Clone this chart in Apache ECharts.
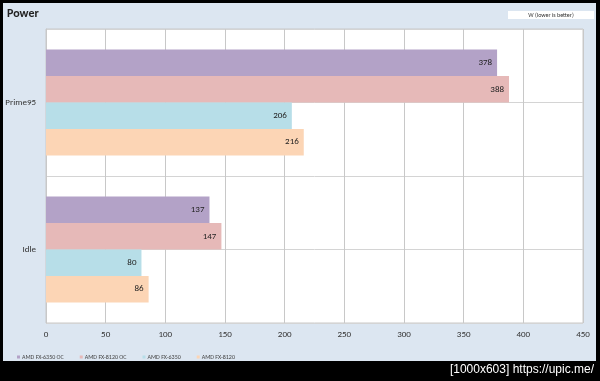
<!DOCTYPE html>
<html>
<head>
<meta charset="utf-8">
<script src="https://cdn.jsdelivr.net/npm/echarts@6/dist/echarts.min.js"></script>
<style>
html,body{margin:0;padding:0;background:#000;}
#c{width:600px;height:381px;}
</style>
</head>
<body>
<div id="c"></div>
<script>
const categories = ['Prime95', 'Idle'];
const seriesNames = ['AMD FX-6350 OC', 'AMD FX-8120 OC', 'AMD FX-6350', 'AMD FX-8120'];
const fx6350oc = [378, 137];
const fx8120oc = [388, 147];
const fx6350 = [206, 80];
const fx8120 = [216, 86];
const colors = ['#b3a2c7', '#e6b9b8', '#b7dee8', '#fcd5b5'];
const xTicks = [0, 50, 100, 150, 200, 250, 300, 350, 400, 450];

const chart = echarts.init(document.getElementById('c'), null, {renderer: 'canvas'});
const values = [fx6350oc, fx8120oc, fx6350, fx8120];
const font = 'Calibri, "Open Sans", "Liberation Sans", sans-serif';

chart.setOption({
  animation: false,
  backgroundColor: '#000',
  textStyle: {fontFamily: font},
  graphic: [
    {type: 'rect', shape: {x: 3, y: 3, width: 593, height: 358}, style: {fill: '#dce6f1'}, z: -10},
    {type: 'rect', shape: {x: 508, y: 11, width: 86, height: 8}, style: {fill: '#ffffff'}, z: -5},
    {type: 'text', x: 551, y: 15, style: {text: 'W (lower is better)', fill: '#333', font: '6px ' + font, align: 'center', verticalAlign: 'middle'}},
    {type: 'text', left: 7, top: 8, style: {text: 'Power', fill: '#222', font: 'bold 12px ' + font}},
    {type: 'text', right: 6, top: 364, style: {text: '[1000x603] https://upic.me/', fill: '#fff', font: '12px "Liberation Sans", sans-serif'}}
  ],
  legend: {
    left: 12, top: 349,
    itemWidth: 3, itemHeight: 3, itemGap: 16,
    icon: 'rect',
    textStyle: {fontSize: 6, color: '#444', fontFamily: font, padding: [0, 0, 0, -3]},
    data: seriesNames
  },
  grid: {left: 46, right: 17, top: 29, bottom: 58, show: true, backgroundColor: '#fff', borderColor: '#c8c8c8', borderWidth: 1},
  xAxis: {
    type: 'value', min: 0, max: 450, interval: 50,
    axisLine: {show: false}, axisTick: {show: false},
    axisLabel: {fontSize: 9, color: '#333', margin: 7, formatter: v => xTicks.includes(v) ? String(v) : ''},
    splitLine: {lineStyle: {color: '#c8c8c8', width: 1}}
  },
  yAxis: [
    {
      type: 'category', data: categories, inverse: true,
      axisLine: {lineStyle: {color: '#c8c8c8'}}, axisTick: {show: false},
      axisLabel: {fontSize: 9, color: '#333', margin: 10},
      splitLine: {show: false}
    },
    {
      type: 'value', min: 0, max: 4, interval: 1, position: 'right',
      axisLine: {show: false}, axisTick: {show: false}, axisLabel: {show: false},
      splitLine: {show: true, lineStyle: {color: '#d4d4d4'}}
    }
  ],
  series: seriesNames.map((n, i) => ({
    name: n, type: 'bar', yAxisIndex: 0, data: values[i],
    barGap: '0%', barCategoryGap: '28%',
    itemStyle: {color: colors[i]},
    label: {show: true, position: 'insideRight', distance: 5, fontSize: 9, color: '#222'}
  }))
});
</script>
</body>
</html>
